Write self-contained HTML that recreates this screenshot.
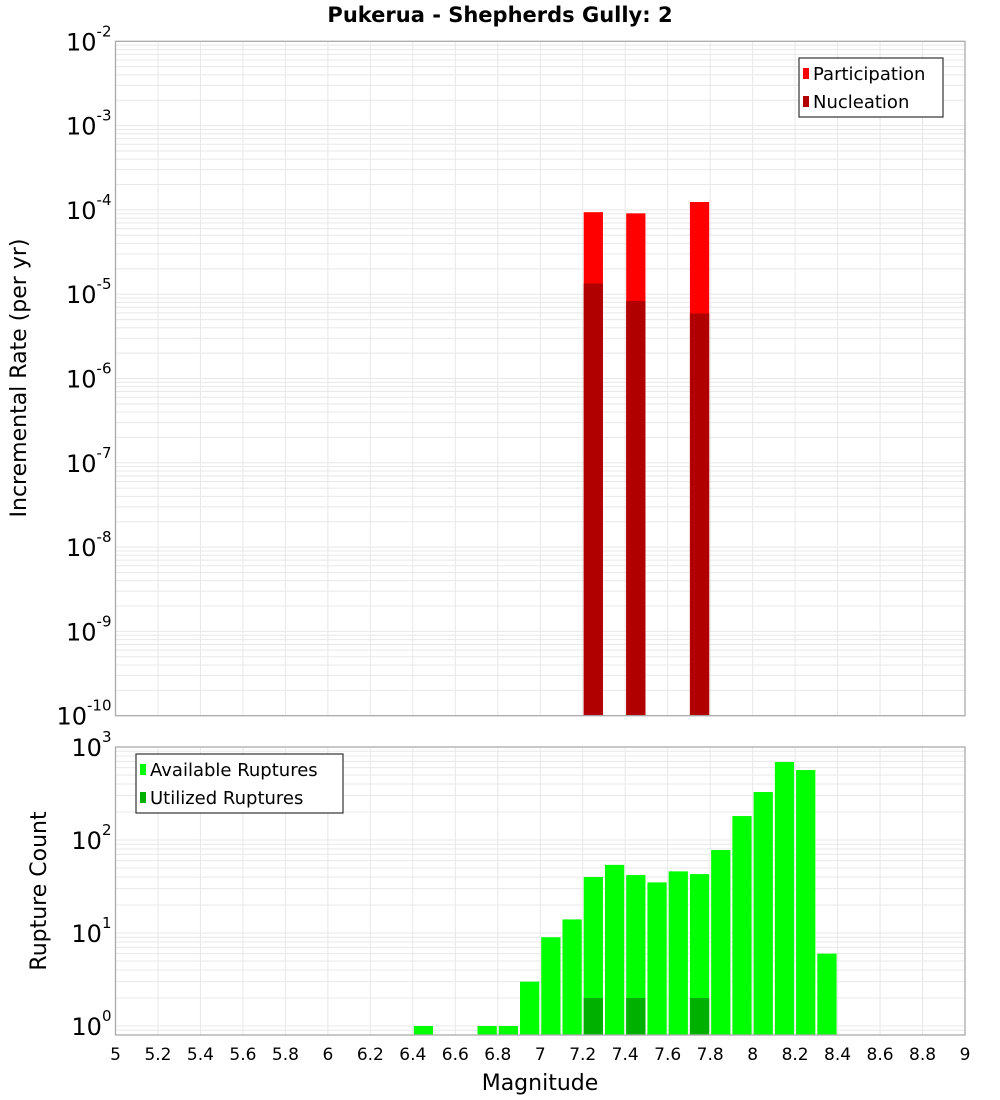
<!DOCTYPE html>
<html><head><meta charset="utf-8"><style>
body{margin:0;background:#fff;}
svg{display:block;font-family:"DejaVu Sans","Liberation Sans",sans-serif;}
</style></head><body>
<svg id="chart" width="1000" height="1100" viewBox="0 0 1000 1100">
<text x="500" y="22" text-anchor="middle" font-size="21" font-weight="bold">Pukerua - Shepherds Gully: 2</text>
<g id="topPlot"></g>
<g id="botPlot"></g>
<text transform="translate(26,378) rotate(-90)" text-anchor="middle" font-size="22">Incremental Rate (per yr)</text>
<text transform="translate(46,891) rotate(-90)" text-anchor="middle" font-size="22">Rupture Count</text>
<text x="540" y="1090" text-anchor="middle" font-size="22">Magnitude</text>
</svg>
<script>
const topBins = [7.25, 7.45, 7.75];
const participation = [9.4e-5, 9.1e-5, 1.24e-4];
const nucleation = [1.34e-5, 8.3e-6, 5.9e-6];
const botBins = [6.45, 6.75, 6.85, 6.95, 7.05, 7.15, 7.25, 7.35, 7.45, 7.55, 7.65, 7.75, 7.85, 7.95, 8.05, 8.15, 8.25, 8.35];
const available = [1, 1, 1, 3, 9, 14, 40, 54, 42, 35, 46, 43, 78, 181, 328, 690, 565, 6];
const utilBins = [7.25, 7.45, 7.75];
const utilized = [2, 2, 2];
const xTicks = ["5","5.2","5.4","5.6","5.8","6","6.2","6.4","6.6","6.8","7","7.2","7.4","7.6","7.8","8","8.2","8.4","8.6","8.8","9"];
const topExps = [-2,-3,-4,-5,-6,-7,-8,-9,-10];
const botExps = [3,2,1,0];

const NS="http://www.w3.org/2000/svg";
const L=115.5,R=965;
const xs=m=>L+(m-5)*(R-L)/4;
const T1=41.3,B1=715.7;
const yTop=v=>T1+(-2-Math.log10(v))*(B1-T1)/8;
const T2=747,D2=93,Z2=1026,B2=1035;
const yBot=v=>Z2-Math.log10(v)*D2;
function mk(p,tag,a){const e=document.createElementNS(NS,tag);for(const k in a)e.setAttribute(k,a[k]);p.appendChild(e);return e;}
const gTop=document.getElementById('topPlot'),gBot=document.getElementById('botPlot');

function frame(g,t,b,yf,e0,e1,name){
  mk(g,'rect',{x:L,y:t,width:R-L,height:b-t,fill:'#fff'});
  for(let e=e0;e<e1;e++)for(let k=1;k<10;k++){const yy=yf(k*Math.pow(10,e));if(yy<t-0.5||yy>b+0.5)continue;
    const ln=mk(g,'line',{x1:L,x2:R,y1:yy,y2:yy,stroke:'#e8e8e8','stroke-width':1});
    
    }
  xTicks.forEach(s=>{const xx=xs(+s);const ln=mk(g,'line',{x1:xx,x2:xx,y1:t,y2:b,stroke:'#e8e8e8','stroke-width':1});
    
    });
}
frame(gTop,T1,B1,yTop,-10,-2,'top');
frame(gBot,T2,B2,yBot,-1,3,'bottom');

function bar(g,m,v,yf,base,fill,name){
  const x0=xs(m-0.05)+1,x1=xs(m+0.05)-1,yy=yf(v);
  const r=mk(g,'rect',{x:x0,y:yy,width:x1-x0,height:base-yy,fill:fill});
  
  
}
topBins.forEach((m,i)=>bar(gTop,m,participation[i],yTop,B1,'#ff0000','participation-bar'));
topBins.forEach((m,i)=>bar(gTop,m,nucleation[i],yTop,B1,'#b00000','nucleation-bar'));
botBins.forEach((m,i)=>bar(gBot,m,available[i],yBot,B2,'#00ff00','available-bar'));
utilBins.forEach((m,i)=>bar(gBot,m,utilized[i],yBot,B2,'#00b000','utilized-bar'));

mk(gTop,'rect',{x:L,y:T1,width:R-L,height:B1-T1,fill:'none',stroke:'#aaa','stroke-width':1.3});
mk(gBot,'rect',{x:L,y:T2,width:R-L,height:B2-T2,fill:'none',stroke:'#aaa','stroke-width':1.3});

function ylab(g,e,yy,name){
  const t=mk(g,'text',{x:L-4,y:yy+9,'text-anchor':'end','font-size':24});
  
  
  const a=mk(t,'tspan',{});a.textContent='10';
  const s=mk(t,'tspan',{dy:-14,'font-size':15});s.textContent=String(e);
}
topExps.forEach(e=>ylab(gTop,e,yTop(Math.pow(10,e)),'top-y-tick-label'));
botExps.forEach(e=>ylab(gBot,e,yBot(Math.pow(10,e)),'bottom-y-tick-label'));
xTicks.forEach(s=>{const t=mk(gBot,'text',{x:xs(+s),y:1060,'text-anchor':'middle','font-size':17});t.textContent=s;
  
  });

function legend(g,bx,by,bw,items,name){
  const lg=mk(g,'g',{});
  
  
  mk(lg,'rect',{x:bx,y:by,width:bw,height:59,fill:'#fff',stroke:'#333','stroke-width':1.2});
  items.forEach((it,i)=>{const cy=by+16+i*28;
    mk(lg,'rect',{x:bx+4,y:cy-6,width:6,height:11,fill:it[1]});
    const t=mk(lg,'text',{x:bx+14,y:cy+6,'font-size':18});t.textContent=it[0];
    
    });
}
legend(gTop,799,58,144,[['Participation','#ff0000'],['Nucleation','#b00000']],'top-legend');
legend(gBot,136,754,207,[['Available Ruptures','#00ff00'],['Utilized Ruptures','#00b000']],'bottom-legend');
</script>
</body></html>
